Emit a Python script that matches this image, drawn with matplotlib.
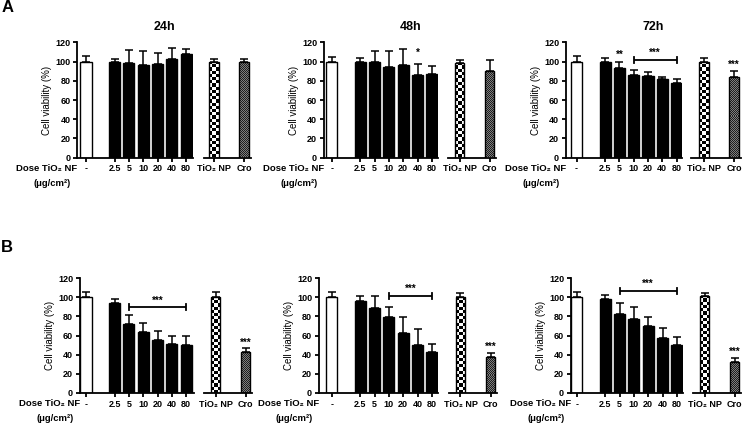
import matplotlib
matplotlib.use("Agg")
import matplotlib.pyplot as plt
from matplotlib.colors import ListedColormap
import numpy as np

plt.rcParams['font.family'] = ['Liberation Sans', 'DejaVu Sans']
plt.rcParams['font.weight'] = 'bold'

# --- data ----------------------------------------------------------------
dose_labels = ['-', '2.5', '5', '10', '20', '40', '80']
ref_labels = ['TiO\u2082 NP', 'Cro']
times = ['24h', '48h', '72h']

# row A
a24_mean = [100, 99.5, 98.8, 96.7, 97.4, 102.6, 107.5]
a24_err = [5.4, 3.8, 12.9, 14.6, 11.8, 11.8, 6.2]
a24_ref = [100, 100]
a24_ref_err = [2.3, 2.3]

a48_mean = [100, 100, 100, 94, 96.3, 86.3, 87.3]
a48_err = [5, 3.7, 11.3, 17, 16.4, 11.7, 8.4]
a48_ref = [98.4, 90.4]
a48_ref_err = [3.6, 11.2]

a72_mean = [100, 100, 92.9, 86.3, 85.2, 82, 77.9]
a72_err = [5.4, 3.7, 6.9, 4.5, 4.2, 1.8, 3.5]
a72_ref = [99.5, 83.8]
a72_ref_err = [4.5, 6.2]

# row B
b24_mean = [100.4, 93.8, 72.4, 64, 55.6, 51, 50]
b24_err = [5.6, 4.5, 9.1, 8.8, 8.8, 8.5, 9]
b24_ref = [100.4, 42.7]
b24_ref_err = [5.6, 4.2]

b48_mean = [100, 96, 88.5, 79.8, 62.6, 50, 42.7]
b48_err = [6, 5.5, 13, 9.8, 17.2, 16.5, 8.3]
b48_ref = [100, 37]
b48_ref_err = [4.6, 4.3]

b72_mean = [100, 98, 83, 77, 70, 57.4, 50]
b72_err = [6, 4.5, 11.5, 12.6, 9.8, 10.1, 8.8]
b72_ref = [101.8, 32.2]
b72_ref_err = [2.5, 3.8]

# significance marks: (dose index, text, y)
a48_stars = [(5, '*', 110)]
a72_stars = [(2, '**', 108)]
# brackets: (first dose index, last dose index, y, text)
a72_bracket = [(3, 6, 102, '***')]
b24_bracket = [(2, 6, 89.6, '***')]
b48_bracket = [(3, 6, 101.5, '***')]
b72_bracket = [(2, 6, 106.7, '***')]
# stars above Cro bar: y
a72_cro_star = 98
b24_cro_star = 53
b48_cro_star = 49
b72_cro_star = 44

W, H = 742, 423
S = 14.3            # px per x unit
DOSE_X = [0, 2, 3, 4, 5, 6, 7]
REF_X = [0, 2.1]
BAR_W = 0.78
REF_W = 0.68

# layout in pixels: y-axis, control bar, end of first axis, start of second, TiO2 bar
layout_top = [(77.3, 86, 193.3, 204, 214),
              (324, 331.7, 438, 448.3, 459.5),
              (566, 576.5, 682, 691, 704)]
layout_bot = [(80, 86, 193.5, 204, 215.5),
              (319, 331.7, 438, 449, 460.5),
              (571, 576.7, 683, 692.5, 704.5)]
rows = [
    dict(y0=157.5, y120=42.5, lay=layout_top,
         panels=[(a24_mean, a24_err, a24_ref, a24_ref_err, [], [], None),
                 (a48_mean, a48_err, a48_ref, a48_ref_err, a48_stars, [], None),
                 (a72_mean, a72_err, a72_ref, a72_ref_err, a72_stars, a72_bracket, a72_cro_star)]),
    dict(y0=392.7, y120=278.3, lay=layout_bot,
         panels=[(b24_mean, b24_err, b24_ref, b24_ref_err, [], b24_bracket, b24_cro_star),
                 (b48_mean, b48_err, b48_ref, b48_ref_err, [], b48_bracket, b48_cro_star),
                 (b72_mean, b72_err, b72_ref, b72_ref_err, [], b72_bracket, b72_cro_star)]),
]

FS = 6.5
STAR_FS = 7
LW = 1.3
checker_np = ListedColormap(['white', 'black'])
checker_cro = ListedColormap(['#7e7e7e', '#1e1e1e'])

fig = plt.figure(figsize=(W / 100, H / 100), dpi=100)
fig.patch.set_facecolor('white')


def style_axis(ax):
    for side in ['top', 'right']:
        ax.spines[side].set_visible(False)
    for side in ['left', 'bottom']:
        ax.spines[side].set_linewidth(LW)
    ax.tick_params(direction='out', length=3, width=LW, labelsize=FS, pad=2)
    ax.patch.set_alpha(0)


def fill_checker(ax, bar, cell_px, cmap, px_per_y):
    # pattern fill of a bar, clipped to the bar rectangle
    x0, w, h = bar.get_x(), bar.get_width(), bar.get_height()
    ncol = max(1, int(round(w * S / cell_px)))
    nrow = max(1, int(round(h * px_per_y / cell_px)))
    pat = np.indices((nrow, ncol)).sum(axis=0) % 2
    im = ax.imshow(pat, extent=(x0, x0 + w, 0, h), origin='lower', aspect='auto',
                   cmap=cmap, interpolation='nearest', zorder=1.5)
    im.set_clip_path(bar)


for ri, row in enumerate(rows):
    bottom = (H - row['y0']) / H
    height = (row['y0'] - row['y120']) / H
    px_per_y = (row['y0'] - row['y120']) / 120
    for ci, (lay, panel) in enumerate(zip(row['lay'], row['panels'])):
        yaxis, ctrl, end, seg2, tio2 = lay
        means, errs, ref, ref_err, stars, brackets, cro_star = panel

        ax = fig.add_axes([yaxis / W, bottom, (end - yaxis) / W, height])
        style_axis(ax)
        colors = ['white'] + ['black'] * 6
        ax.bar(DOSE_X, means, width=BAR_W, color=colors, edgecolor='black',
               linewidth=1.0, zorder=2)
        ax.errorbar(DOSE_X, means, yerr=[np.zeros(len(errs)), errs], fmt='none',
                    ecolor='black', elinewidth=1.1, capsize=3, capthick=1.1, zorder=1)
        ax.set_xlim((yaxis - ctrl) / S, (end - ctrl) / S)
        ax.set_ylim(0, 120)
        ax.set_xticks(DOSE_X)
        ax.set_xticklabels(dose_labels)
        ax.set_yticks(np.arange(0, 121, 20))
        ax.set_ylabel('Cell viability (%)', fontsize=FS + 0.5, labelpad=2)

        for idx, txt, y in stars:
            ax.text(DOSE_X[idx], y - 1, txt, ha='center', va='center', fontsize=STAR_FS)
        for i0, i1, y, txt in brackets:
            x0, x1 = DOSE_X[i0], DOSE_X[i1]
            ax.plot([x0, x1], [y, y], color='black', lw=1.3, solid_capstyle='butt')
            for xx in (x0, x1):
                ax.plot([xx, xx], [y - 3, y + 3], color='black', lw=1.3)
            ax.text((x0 + x1) / 2, y + 7, txt, ha='center', va='center', fontsize=STAR_FS)

        seg2_end = tio2 + (REF_X[1] + 0.48) * S
        ax2 = fig.add_axes([seg2 / W, bottom, (seg2_end - seg2) / W, height])
        style_axis(ax2)
        ax2.spines['left'].set_visible(False)
        ax2.set_yticks([])
        bars = ax2.bar(REF_X, ref, width=REF_W, color='none', edgecolor='black',
                       linewidth=1.0, zorder=2)
        fill_checker(ax2, bars[0], 3.2, checker_np, px_per_y)
        fill_checker(ax2, bars[1], 1.0, checker_cro, px_per_y)
        ax2.errorbar(REF_X, ref, yerr=[np.zeros(2), ref_err], fmt='none',
                     ecolor='black', elinewidth=1.1, capsize=3, capthick=1.1, zorder=1)
        ax2.set_xlim((seg2 - tio2) / S, (seg2_end - tio2) / S)
        ax2.set_ylim(0, 120)
        ax2.set_xticks(REF_X)
        ax2.set_xticklabels(ref_labels)
        if cro_star is not None:
            ax2.text(REF_X[1], cro_star - 1, '***', ha='center', va='center', fontsize=STAR_FS)

        # dose label under the axis
        ylab = row['y0'] + 10.5
        fig.text(yaxis / W, 1 - ylab / H, 'Dose TiO\u2082 NF', ha='right', va='center',
                 fontsize=FS + 0.3)
        fig.text((yaxis - 25) / W, 1 - (ylab + 15) / H, '(\u03bcg/cm\u00b2)', ha='center',
                 va='center', fontsize=FS + 0.3)

        if ri == 0:
            xc = (yaxis + seg2_end) / 2
            fig.text(xc / W, 1 - 27 / H, times[ci], ha='center', va='center', fontsize=9)

fig.text(7.5 / W, 1 - 8 / H, 'A', ha='center', va='center', fontsize=12)
fig.text(7 / W, 1 - 247 / H, 'B', ha='center', va='center', fontsize=12)

fig.savefig('out.png', dpi=100, facecolor='white')
